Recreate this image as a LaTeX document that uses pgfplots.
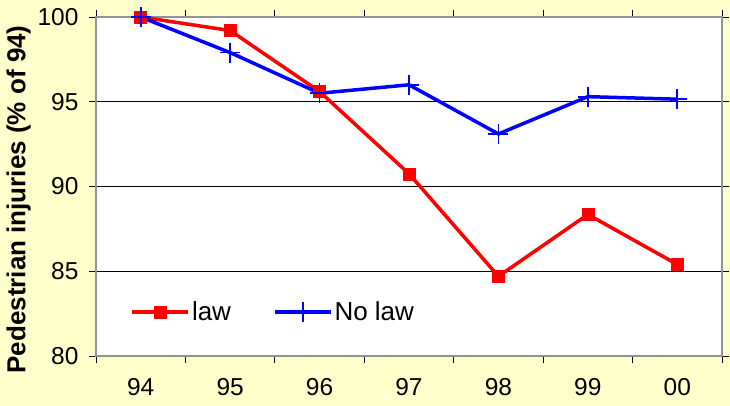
\documentclass[border=0pt]{standalone}
\usepackage{pgfplots}
\pgfplotsset{compat=1.18}
\usepackage{fontspec}
\setmainfont{Liberation Sans}
\definecolor{bgcream}{HTML}{FFFFCC}
\definecolor{lawred}{HTML}{FF0000}
\definecolor{nolawblue}{HTML}{0000FF}

\begin{document}
\begin{tikzpicture}[x=1pt,y=1pt]
\fill[bgcream] (-96,-50) rectangle (634,356);
\begin{axis}[
  at={(0,0)}, anchor=south west,
  scale only axis,
  width=626pt, height=339pt,
  xmin=-0.5, xmax=6.5,
  ymin=80, ymax=100,
  xtick={-0.5,0.5,...,6.5},
  xticklabels={},
  extra x ticks={0,1,2,3,4,5,6},
  extra x tick labels={94,95,96,97,98,99,00},
  extra x tick style={major tick length=0pt, tick label style={yshift=-19pt}},
  ytick={80,85,...,100},
  yticklabel style={xshift=-7pt},
  tick align=outside,
  major tick length=7pt,
  tick style={black, line width=0.8pt},
  ymajorgrids,
  grid style={black, line width=0.7pt},
  axis line style={gray!85, line width=2.2pt},
  axis background/.style={fill=white},
  tick label style={font=\fontsize{24.5}{24.5}\selectfont},
  /pgf/number format/assume math mode=true,
  ylabel={\bfseries Pedestrian injuries (\% of 94)},
  ylabel style={font=\fontsize{26}{26}\selectfont, at={(ticklabel cs:0.45)}, xshift=4pt},
  legend style={at={(0.05,0.13)}, anchor=west, draw=none, fill=none,
    legend columns=2, font=\fontsize{26}{26}\selectfont},
  legend image code/.code={
    \draw[#1, mark=none] (0pt,0pt) -- (56pt,0pt);
    \path[#1] plot coordinates {(28pt,0pt)};
  },
]
\addplot[lawred, line width=3.5pt, mark=square*, mark size=6pt,
  mark options={solid, line width=0.5pt}] coordinates {
  (0,100) (1,99.2) (2,95.6) (3,90.75) (4,84.7) (5,88.35) (6,85.4)
};
\addlegendentry{law\hspace{40pt}\mbox{}}
\addplot[nolawblue, line width=3.5pt, mark=+, mark size=10pt,
  mark options={solid, line width=1.8pt}] coordinates {
  (0,100) (1,97.9) (2,95.5) (3,96.0) (4,93.1) (5,95.3) (6,95.15)
};
\addlegendentry{No law}
\end{axis}
\end{tikzpicture}
\end{document}
